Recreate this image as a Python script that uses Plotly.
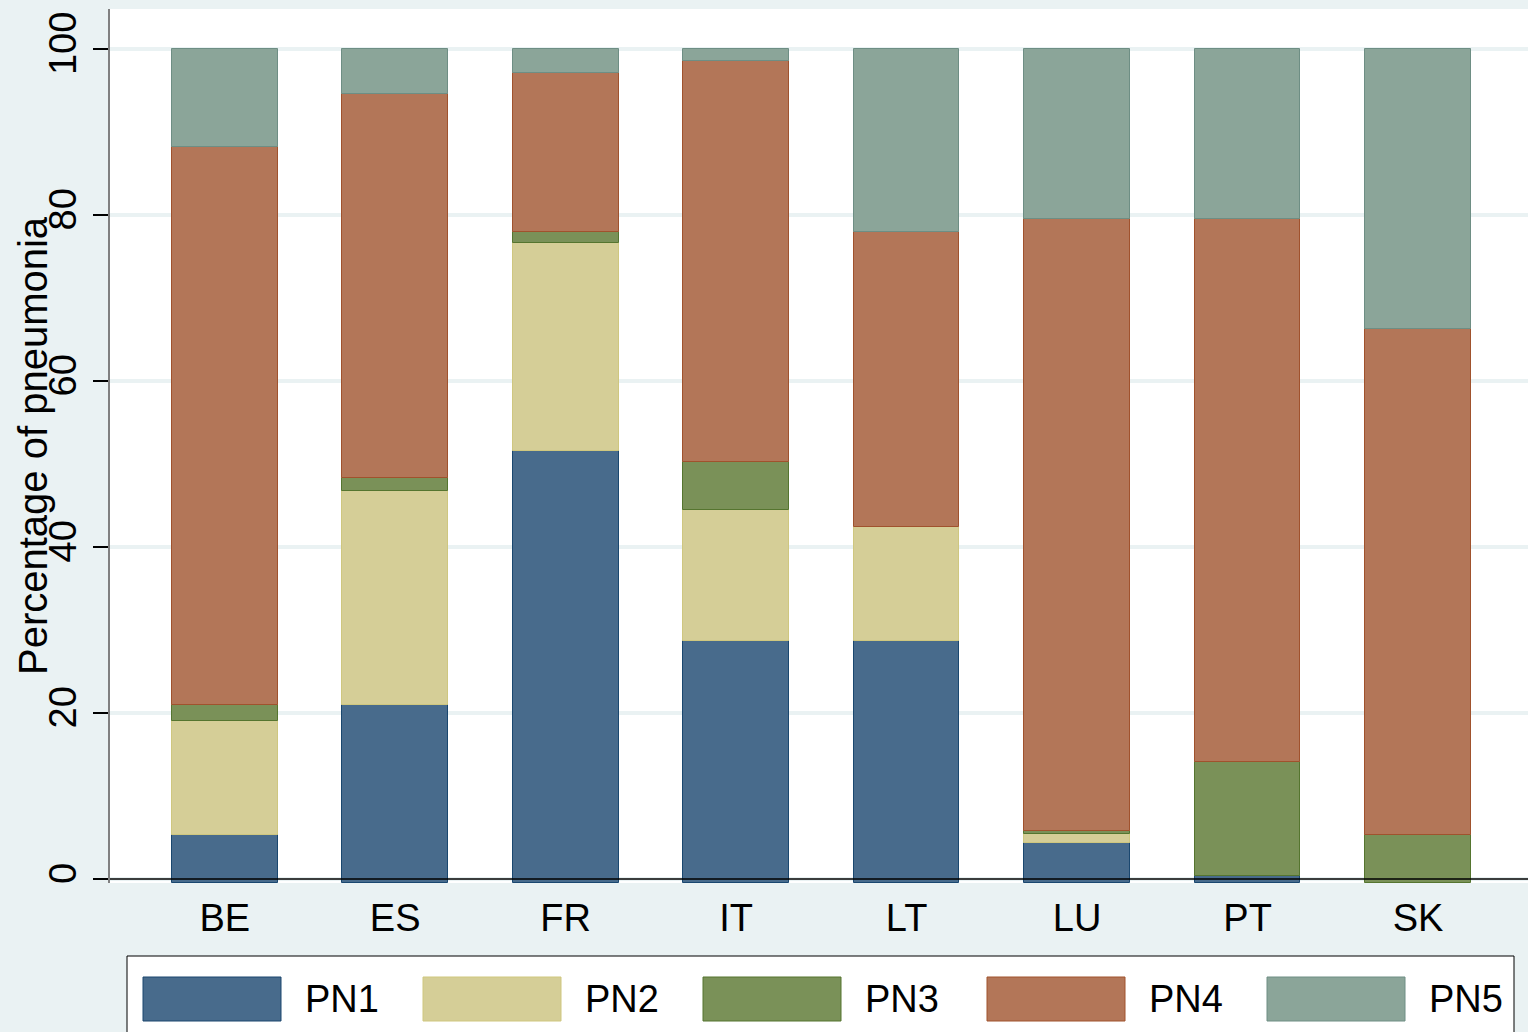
import plotly.graph_objects as go

# ---------------- data ----------------
countries = ["BE", "ES", "FR", "IT", "LT", "LU", "PT", "SK"]
series_names = ["PN1", "PN2", "PN3", "PN4", "PN5"]
pn1 = [5.3, 21.0, 51.6, 28.7, 28.7, 4.4, 0.4, 0.0]
pn2 = [13.7, 25.8, 25.0, 15.7, 13.75, 1.0, 0.0, 0.0]
pn3 = [2.0, 1.5, 1.4, 5.8, 0.0, 0.4, 13.7, 5.3]
pn4 = [67.2, 46.3, 19.1, 48.35, 35.55, 73.7, 65.4, 61.0]
pn5 = [11.8, 5.4, 2.9, 1.45, 22.0, 20.5, 20.5, 33.7]
y_ticks = [0, 20, 40, 60, 80, 100]
y_title = "Percentage of pneumonia"

series = [pn1, pn2, pn3, pn4, pn5]

# ---------------- style ----------------
W, H = 1528, 1032
ML, MR, MT, MB = 110, 0, 9, 149
PW, PH = W - ML - MR, H - MT - MB
FONT = "Liberation Sans, Arial, sans-serif"
BG = "#EAF2F3"
fills = ["#486B8C", "#D5CE97", "#7A9158", "#B37658", "#8BA599"]
outlines = ["#1A476F", "#CFC77F", "#55752F", "#A0522D", "#6E8E84"]
Y_MIN, Y_MAX = -0.48, 104.82
X_MIN, X_MAX = -0.673, 7.645
BAR_W = 0.62


def px(xp):
    return (xp - ML) / PW


def py(yp):
    return (MT + PH - yp) / PH


fig = go.Figure()
for i, vals in enumerate(series):
    bases, heights = [], []
    for j in range(len(countries)):
        below = [series[k][j] for k in range(i)]
        cum = sum(below)
        if vals[j] <= 0:
            bases.append(None)
            heights.append(None)
            continue
        first = all(v == 0 for v in below)
        b = Y_MIN if first else cum
        bases.append(b)
        heights.append(cum + vals[j] - b)
    fig.add_trace(go.Bar(
        x=countries, y=heights, base=bases, name=series_names[i],
        width=BAR_W,
        marker=dict(color=fills[i], line=dict(color=outlines[i], width=1)),
        showlegend=False,
    ))

shapes = []
annotations = []
# zero line drawn above bars
shapes.append(dict(type="line", xref="paper", yref="y", x0=0, x1=1, y0=0, y1=0,
                   line=dict(color="black", width=1.5), layer="above"))

# legend box
shapes.append(dict(type="rect", xref="paper", yref="paper",
                   x0=px(127), x1=px(1514), y0=py(1045), y1=py(956),
                   fillcolor="white", line=dict(color="black", width=1)))
sw_x = [143, 423, 703, 987, 1267]
tx_x = [303, 583, 863, 1147, 1427]
for i, name in enumerate(series_names):
    shapes.append(dict(type="rect", xref="paper", yref="paper",
                       x0=px(sw_x[i]), x1=px(sw_x[i] + 138),
                       y0=py(1021), y1=py(977),
                       fillcolor=fills[i], line=dict(color=outlines[i], width=1)))
    annotations.append(dict(xref="paper", yref="paper", x=px(tx_x[i]), y=py(999),
                            xanchor="left", yanchor="middle", text=name,
                            showarrow=False, font=dict(family=FONT, size=38, color="black")))

# y title
annotations.append(dict(xref="paper", yref="paper", x=px(33), y=py(446),
                        xanchor="center", yanchor="middle", text=y_title,
                        textangle=-90, showarrow=False,
                        font=dict(family=FONT, size=40, color="black")))

fig.update_layout(
    width=W, height=H,
    margin=dict(l=ML, r=MR, t=MT, b=MB, pad=0),
    paper_bgcolor=BG, plot_bgcolor="white",
    barmode="overlay", bargap=0,
    font=dict(family=FONT, size=38, color="black"),
    shapes=shapes, annotations=annotations,
    showlegend=False,
    xaxis=dict(type="category", range=[X_MIN, X_MAX], showgrid=False,
               zeroline=False, showline=False, ticks="",
               tickfont=dict(family=FONT, size=38, color="black"),
               ticklabelstandoff=9),
    yaxis=dict(range=[Y_MIN, Y_MAX], tickvals=y_ticks, ticktext=[str(v) for v in y_ticks],
               tickangle=-90, ticks="outside", ticklen=15, tickwidth=1.5,
               tickcolor="black", showgrid=True, gridcolor=BG, gridwidth=4,
               zeroline=False, showline=True, linecolor="#808080", linewidth=2,
               tickfont=dict(family=FONT, size=38, color="black"),
               ticklabelstandoff=2),
)

fig.write_html("out.html", config={"displayModeBar": False},
               post_script="document.body.style.margin='0';document.body.style.overflow='hidden';")
